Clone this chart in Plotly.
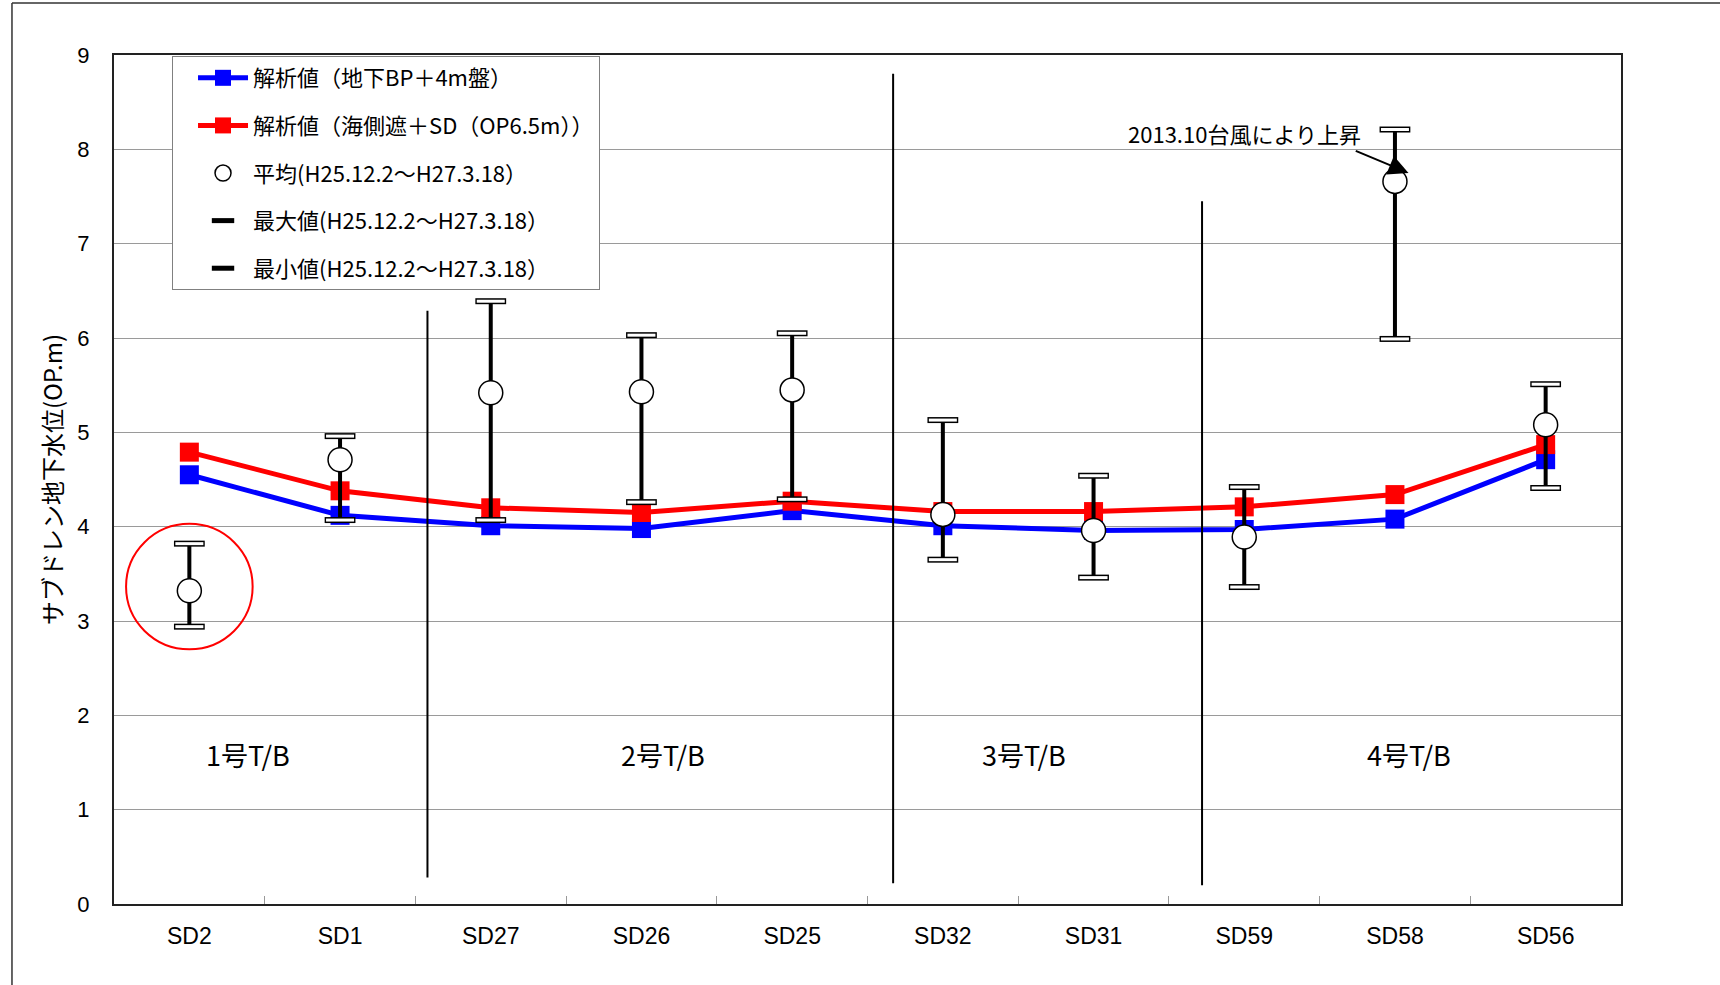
import plotly.graph_objects as go

# ---- data -------------------------------------------------------------
sites = ["SD2", "SD1", "SD27", "SD26", "SD25", "SD32", "SD31", "SD59", "SD58", "SD56"]

# analysis results (OP.m)
calc_bp4m = [4.55, 4.12, 4.01, 3.98, 4.17, 4.01, 3.96, 3.97, 4.08, 4.71]
calc_seawall = [4.79, 4.38, 4.20, 4.15, 4.27, 4.16, 4.16, 4.21, 4.34, 4.87]

# observed sub-drain water level, H25.12.2 - H27.3.18 (OP.m)
obs_mean = [3.32, 4.71, 5.42, 5.43, 5.45, 4.13, 3.96, 3.89, 7.66, 5.08]
obs_max = [3.82, 4.96, 6.39, 6.03, 6.05, 5.13, 4.54, 4.42, 8.21, 5.51]
obs_min = [2.94, 4.07, 4.07, 4.26, 4.29, 3.65, 3.46, 3.36, 5.99, 4.41]

building_labels = ["1号T/B", "2号T/B", "3号T/B", "4号T/B"]

# ---- styling ------------------------------------------------------------
JP = "Noto Sans CJK JP"
NUM = "Liberation Sans, Arial, " + JP
NARROW = "Liberation Sans Narrow, Liberation Sans, " + JP

fig = go.Figure()

fig.add_trace(go.Scatter(
    x=sites, y=calc_bp4m, mode="lines+markers",
    name="解析値（地下BP＋4m盤）", legendgroup="g1",
    line=dict(color="#0000FF", width=5),
    marker=dict(symbol="square", size=19, color="#0000FF"),
))
fig.add_trace(go.Scatter(
    x=sites, y=calc_seawall, mode="lines+markers",
    name="解析値（海側遮＋SD（OP6.5m））", legendgroup="g2",
    line=dict(color="#FF0000", width=5),
    marker=dict(symbol="square", size=19, color="#FF0000"),
))

# mean with max/min range bar
fig.add_trace(go.Scatter(
    x=sites, y=obs_mean, mode="markers",
    name="平均(H25.12.2～H27.3.18）", legendgroup="g3",
    marker=dict(symbol="circle", size=24, color="white",
                line=dict(color="black", width=1.5)),
    error_y=dict(type="data", symmetric=False,
                 array=[hi - m for hi, m in zip(obs_max, obs_mean)],
                 arrayminus=[m - lo for m, lo in zip(obs_mean, obs_min)],
                 color="black", thickness=4, width=0),
))

# hollow end caps: black outer bar with white core
for vals, name, grp in [(obs_max, "最大値(H25.12.2～H27.3.18）", "g4"),
                        (obs_min, "最小値(H25.12.2～H27.3.18）", "g5")]:
    fig.add_trace(go.Scatter(
        x=sites, y=vals, mode="markers", name=name, legendgroup=grp,
        marker=dict(symbol="line-ew", size=22,
                    line=dict(color="black", width=6)),
    ))
    fig.add_trace(go.Scatter(
        x=sites, y=vals, mode="markers", showlegend=False, legendgroup=grp,
        hoverinfo="skip",
        marker=dict(symbol="line-ew", size=20,
                    line=dict(color="white", width=3)),
    ))

# ---- building dividers, highlight ring, frame ---------------------------
shapes = []
for xd, y0, y1 in [(1.58, 0.28, 6.29), (4.67, 0.22, 8.80), (6.72, 0.20, 7.45)]:
    shapes.append(dict(type="line", xref="x", yref="y", x0=xd, x1=xd, y0=y0, y1=y1,
                       line=dict(color="black", width=2)))
shapes.append(dict(type="circle", xref="x", yref="y", x0=-0.42, x1=0.42, y0=2.70, y1=4.03,
                   line=dict(color="#FF0000", width=2)))
# outer picture frame (left and top edge)
shapes.append(dict(type="line", xref="paper", yref="paper", x0=-0.0677, x1=-0.0677,
                   y0=-0.12, y1=1.0612, line=dict(color="#333333", width=1.5)))
shapes.append(dict(type="line", xref="paper", yref="paper", x0=-0.0677, x1=1.08,
                   y0=1.0612, y1=1.0612, line=dict(color="#333333", width=1.5)))

annotations = []
for lbl, xp in zip(building_labels, [0.39, 3.14, 5.54, 8.09]):
    annotations.append(dict(x=xp, y=1.59, xref="x", yref="y", text=lbl, showarrow=False,
                            font=dict(family=JP, size=27, color="black")))
annotations.append(dict(x=7.0, y=8.17, xref="x", yref="y", text="2013.10台風により上昇",
                        showarrow=False, font=dict(family=JP, size=22, color="black")))
annotations.append(dict(x=8.09, y=7.75, xref="x", yref="y", ax=7.73, ay=7.99,
                        axref="x", ayref="y", text="", showarrow=True,
                        arrowhead=2, arrowsize=2, arrowwidth=2, arrowcolor="black",
                        standoff=0))

fig.update_layout(
    width=1720, height=985,
    margin=dict(l=114, r=99, t=55, b=81),
    paper_bgcolor="white", plot_bgcolor="white",
    showlegend=True,
    legend=dict(x=0.0385, y=0.9988, xanchor="left", yanchor="top",
                bgcolor="white", bordercolor="#808080", borderwidth=1,
                font=dict(family=JP, size=22, color="black"),
                tracegroupgap=16, itemwidth=50, indentation=20,
                traceorder="grouped"),
    shapes=shapes, annotations=annotations,
)

fig.update_xaxes(
    type="category", range=[-0.5, 9.5],
    showgrid=False, showline=True, linecolor="#222222", linewidth=2, mirror=True,
    ticks="inside", tickson="boundaries", ticklen=8, tickcolor="#999999",
    tickfont=dict(family=NARROW, size=23, color="black"), ticklabelstandoff=10,
)
fig.update_yaxes(
    range=[0, 9], dtick=1,
    showgrid=True, gridcolor="#9a9a9a", gridwidth=1, zeroline=False,
    showline=True, linecolor="#222222", linewidth=2, mirror=True,
    ticks="", tickfont=dict(family=NUM, size=22, color="black"), ticklabelstandoff=18,
    title=dict(text="サブドレン地下水位(OP.m)", standoff=8,
               font=dict(family=JP, size=24, color="black")),
)

fig.write_html("out.html")
